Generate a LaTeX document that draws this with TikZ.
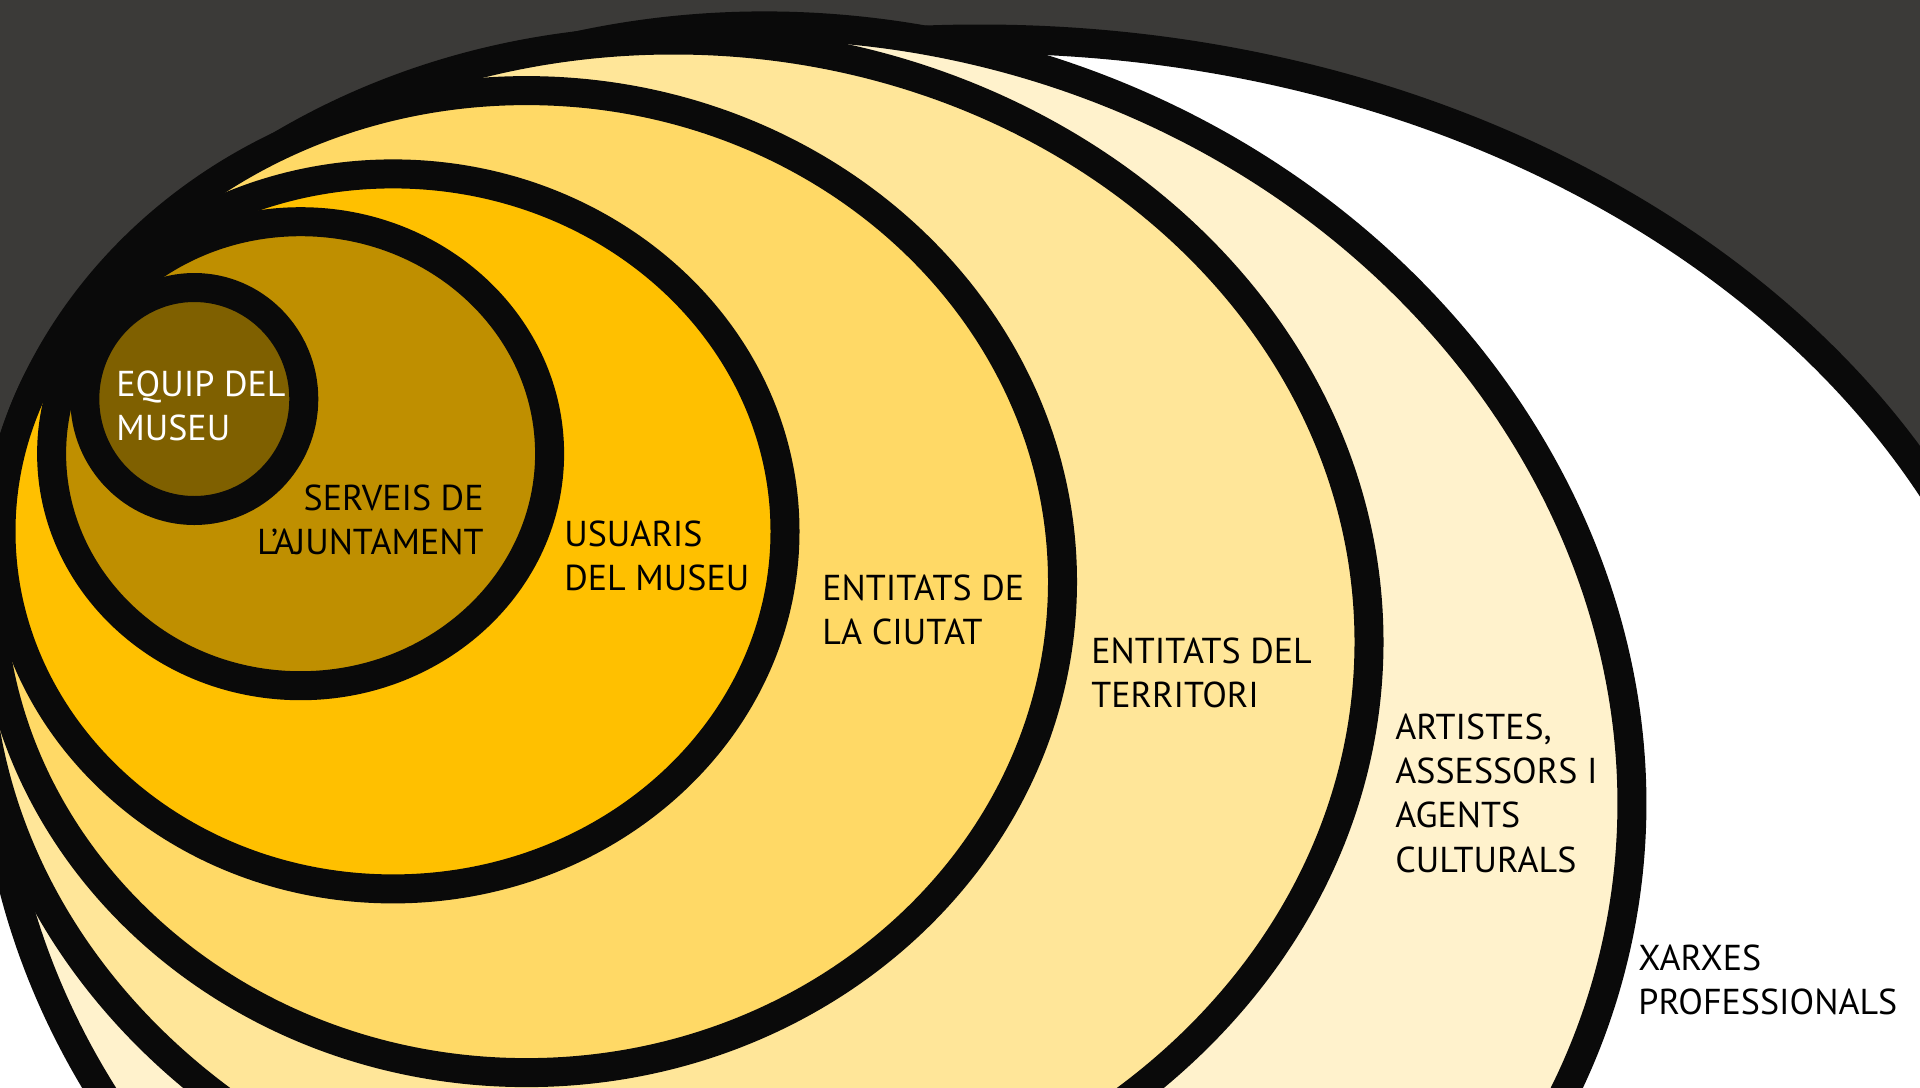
\documentclass[tikz,border=0pt]{standalone}
\usepackage{fontspec}
\setmainfont{PT Sans}
\usetikzlibrary{positioning}

\definecolor{bggray}{HTML}{3B3A38}
\definecolor{ringblack}{HTML}{0A0A0A}
\definecolor{ringA}{HTML}{FFFFFF}
\definecolor{ringB}{HTML}{FFF2CC}
\definecolor{ringC}{HTML}{FFE699}
\definecolor{ringD}{HTML}{FFD966}
\definecolor{ringE}{HTML}{FFC000}
\definecolor{ringF}{HTML}{BF8F00}
\definecolor{ringG}{HTML}{7F6000}

\tikzset{
    ring/.style={draw=ringblack, line width=14.5pt},
    lbl/.style={font=\fontsize{18pt}{22.2pt}\selectfont, align=left,
        inner sep=0pt, anchor=north west, text=black},
}

\begin{document}
\begin{tikzpicture}[x=0.5pt, y=-0.5pt]
    \def\capH{25}

    \useasboundingbox (0,0) rectangle (1920,1087);
    \fill[bggray] (0,0) rectangle (1920,1087);

    \begin{scope}
        \clip (0,0) rectangle (1920,1087);
        % Rings, outermost first
        \foreach \cx/\cy/\rx/\ry/\rot/\col in {
            979.6/857/1066.5/818/0/ringA,
            812/762/825/730/-14/ringB,
            673.5/642/695.5/602/0/ringC,
            526.5/581.6/536/491/0/ringD,
            393/531.4/392/357.5/0/ringE,
            300.6/453.7/249/232/0/ringF,
            194.3/399/109.5/111.5/0/ringG} {
            \draw[ring, fill=\col, rotate around={\rot:(\cx,\cy)}]
                (\cx,\cy) ellipse [x radius=\rx, y radius=\ry];
        }
    \end{scope}

    % Labels
    \node[lbl, text=white] (equip) at (116, 395-\capH) {EQUIP DEL\\MUSEU};
    \node[lbl, anchor=north east, align=right] (serveis) at (484, 509-\capH)
        {SERVEIS DE\\L’AJUNTAMENT};
    \node[lbl] (usuaris) at (564, 545-\capH) {USUARIS\\DEL MUSEU};
    \node[lbl] (ciutat) at (822, 599-\capH) {ENTITATS DE\\LA CIUTAT};
    \node[lbl] (territori) at (1091, 662-\capH) {ENTITATS DEL\\TERRITORI};
    \node[lbl] (artistes) at (1395, 738-\capH)
        {ARTISTES,\\ASSESSORS I\\AGENTS\\CULTURALS};
    \node[lbl] (xarxes) at (1638, 969-\capH) {XARXES\\PROFESSIONALS};
\end{tikzpicture}
\end{document}
